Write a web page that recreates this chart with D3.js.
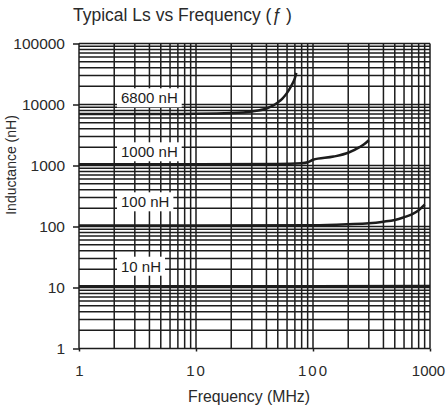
<!DOCTYPE html>
<html>
<head>
<meta charset="utf-8">
<script src="https://cdn.jsdelivr.net/npm/d3@7.9.0/dist/d3.min.js"></script>
<style>
  html, body { margin: 0; padding: 0; background: #fff; }
  svg { display: block; font-family: "Liberation Sans", Arial, sans-serif; }
</style>
</head>
<body>
<svg id="chart" width="446" height="409"></svg>
<script>
// values (frequency in MHz, inductance in nH)
const labels = ["6800 nH", "1000 nH", "100 nH", "10 nH"];
const nominal = [6800, 1000, 100, 10];

const freq6800 = [1, 5, 10, 20, 30, 40, 45, 50, 55, 60, 65, 70, 72];
const ind6800 = [7000, 7000, 7050, 7250, 7700, 8600, 9500, 10800, 12600, 15500, 20000, 27000, 33000];

const freq1000 = [1, 10, 50, 80, 90, 100, 150, 200, 250, 275, 300];
const ind1000 = [1050, 1050, 1060, 1090, 1130, 1240, 1400, 1620, 2000, 2250, 2600];

const freq100 = [1, 10, 100, 200, 300, 400, 500, 600, 700, 800, 900];
const ind100 = [104, 104, 105, 109, 113, 120, 128, 142, 158, 185, 228];

const freq10 = [1, 10, 100, 1000];
const ind10 = [10.5, 10.5, 10.5, 10.6];

const xTicks = [1, 10, 100, 1000];
const yTicks = [1, 10, 100, 1000, 10000, 100000];

const series = [
  { f: freq6800, l: ind6800 },
  { f: freq1000, l: ind1000 },
  { f: freq100, l: ind100 },
  { f: freq10, l: ind10 }
];

const svg = d3.select("#chart");
const plotLeft = 79, plotRight = 430, plotTop = 43.5, plotBottom = 348.5;

const x = d3.scaleLog().domain([1, 1000]).range([plotLeft, plotRight]);
const y = d3.scaleLog().domain([1, 100000]).range([plotBottom, plotTop]);

const ink = "#1c1c1c";
const textInk = "#2a2a2a";

// log grid, every k * 10^n
const grid = svg.append("g").attr("stroke", ink).attr("stroke-width", 1.5);
x.ticks().forEach((v) => {
  grid.append("line")
    .attr("x1", x(v)).attr("x2", x(v))
    .attr("y1", plotTop).attr("y2", plotBottom);
});
y.ticks().forEach((v) => {
  grid.append("line")
    .attr("x1", plotLeft).attr("x2", plotRight)
    .attr("y1", y(v)).attr("y2", y(v));
});

// axes
const yAxis = svg.append("g")
  .attr("transform", `translate(${plotLeft},0)`)
  .call(d3.axisLeft(y).tickValues(yTicks).tickFormat(d3.format("d")).tickSize(6).tickPadding(8));
const xAxis = svg.append("g")
  .attr("transform", `translate(0,${plotBottom})`)
  .call(d3.axisBottom(x).tickValues(xTicks).tickFormat(d3.format("d")).tickSize(3).tickPadding(14));

[yAxis, xAxis].forEach((g) => {
  g.select(".domain").remove();
  g.selectAll("line").attr("stroke", ink).attr("stroke-width", 1.5);
  g.selectAll("text")
    .attr("fill", textInk)
    .style("font-size", "15.5px")
    .style("font-family", "'Liberation Sans', Arial, sans-serif");
});
xAxis.selectAll("text").style("font-size", "15px");
// the 10 and 100 labels are spaced out in the original
xAxis.selectAll("text").filter((d) => d === 10 || d === 100).attr("letter-spacing", "2px");
// keep the last label inside the page
xAxis.selectAll("text").filter((d) => d === 1000).attr("dx", "-2");

// curves
const line = d3.line()
  .x((d) => x(d[0]))
  .y((d) => y(d[1]))
  .curve(d3.curveMonotoneX);

series.forEach((s) => {
  svg.append("path")
    .datum(s.f.map((f, i) => [f, s.l[i]]))
    .attr("fill", "none")
    .attr("stroke", ink)
    .attr("stroke-width", 2.5)
    .attr("d", line);
});

// part labels on white boxes
const labelX = 121;
const labelLift = [11.4, 8.2, 19.2, 15.8];
labels.forEach((name, i) => {
  const g = svg.append("g");
  const rect = g.append("rect").attr("fill", "#fff");
  const t = g.append("text")
    .attr("x", labelX)
    .attr("y", y(nominal[i]) - labelLift[i])
    .attr("fill", ink)
    .style("font-size", "15px")
    .text(name);
  const bb = t.node().getBBox();
  rect.attr("x", bb.x - 4).attr("y", bb.y - 1)
    .attr("width", bb.width + 8).attr("height", bb.height + 2);
});

// titles
const title = svg.append("text")
  .attr("x", 73).attr("y", 21)
  .attr("fill", textInk)
  .style("font-size", "17.5px")
  .text("Typical Ls vs Frequency (");
title.append("tspan").style("font-style", "italic").text("ƒ");
title.append("tspan").text(" )");

svg.append("text")
  .attr("x", 249).attr("y", 401.5)
  .attr("text-anchor", "middle")
  .attr("fill", textInk)
  .style("font-size", "15.8px")
  .text("Frequency (MHz)");

svg.append("text")
  .attr("transform", "translate(15.5,165) rotate(-90)")
  .attr("text-anchor", "middle")
  .attr("fill", textInk)
  .style("font-size", "14px")
  .text("Inductance (nH)");
</script>
</body>
</html>
